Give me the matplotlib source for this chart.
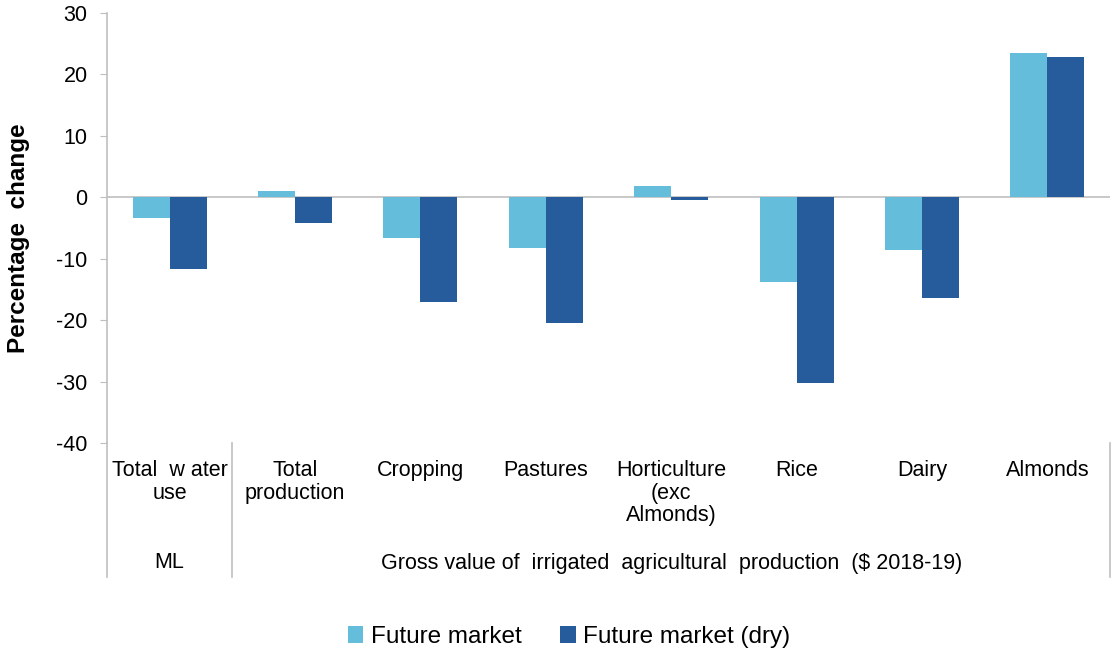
import matplotlib
matplotlib.use("Agg")
import matplotlib.pyplot as plt
import matplotlib.transforms as mtransforms
import numpy as np

plt.rcParams['font.family'] = ['Liberation Sans', 'DejaVu Sans']
plt.rcParams['axes.unicode_minus'] = False

categories = ["Total  w ater\nuse", "Total\nproduction", "Cropping", "Pastures",
              "Horticulture\n(exc\nAlmonds)", "Rice", "Dairy", "Almonds"]
future_market = [-3.3, 1.0, -6.7, -8.3, 1.8, -13.8, -8.6, 23.5]
future_market_dry = [-11.7, -4.2, -17.1, -20.5, -0.4, -30.3, -16.4, 22.8]
series_names = ["Future market", "Future market (dry)"]
group_labels = ["ML", "Gross value of  irrigated  agricultural  production  ($ 2018-19)"]
group_spans = [(0, 0), (1, 7)]
yticks = [-40, -30, -20, -10, 0, 10, 20, 30]

light = "#65BDDC"
dark = "#265C9C"
grey = "#BFBFBF"

fig = plt.figure(figsize=(11.12, 6.56), dpi=100)
W, H = 1112, 656
ax = fig.add_axes([107 / W, 1 - 443 / H, (1110 - 107) / W, (443 - 13) / H])

x = np.arange(len(categories))
bw = 0.295
ax.bar(x - bw / 2, future_market, bw, color=light, label=series_names[0], zorder=2)
ax.bar(x + bw / 2, future_market_dry, bw, color=dark, label=series_names[1], zorder=2)

ax.set_xlim(-0.5, len(categories) - 0.5)
ax.set_ylim(-40, 30)
ax.set_yticks(yticks)
ax.tick_params(axis='y', labelsize=15.5, length=5, color=grey, pad=9)
ax.set_xticks([])
ax.axhline(0, color=grey, lw=1.2, zorder=1)
for s in ['top', 'right', 'bottom']:
    ax.spines[s].set_visible(False)
ax.spines['left'].set_color(grey)
ax.spines['left'].set_linewidth(1.2)
ax.set_ylabel("Percentage  change", fontsize=17.5, fontweight='bold')
ax.yaxis.set_label_coords((19 - 107) / 1003, 0.477)
ax.yaxis.label.set_va('center')

trans = mtransforms.blended_transform_factory(ax.transData, fig.transFigure)
y_axis = 1 - 443 / H
y_bot = 1 - 577 / H
y_cat = 1 - 460 / H
y_grp = 1 - 563 / H

for i, lab in enumerate(categories):
    ax.text(i, y_cat, lab, transform=trans, ha='center', va='top', fontsize=15.5,
            linespacing=1.1)

for (a, b), lab in zip(group_spans, group_labels):
    ax.text((a + b) / 2, y_grp, lab, transform=trans, ha='center', va='center', fontsize=15.5)

for xb in [-0.5, 0.5, len(categories) - 0.5]:
    ax.plot([xb, xb], [y_axis, y_bot], transform=trans, color=grey, lw=1.2, clip_on=False)

fig.legend(loc='center', bbox_to_anchor=(569 / W, 1 - 637 / H), ncol=2, frameon=False,
           fontsize=17.5, handlelength=0.65, handleheight=0.65, handletextpad=0.3,
           columnspacing=1.6)

fig.savefig("out.png", dpi=100)
